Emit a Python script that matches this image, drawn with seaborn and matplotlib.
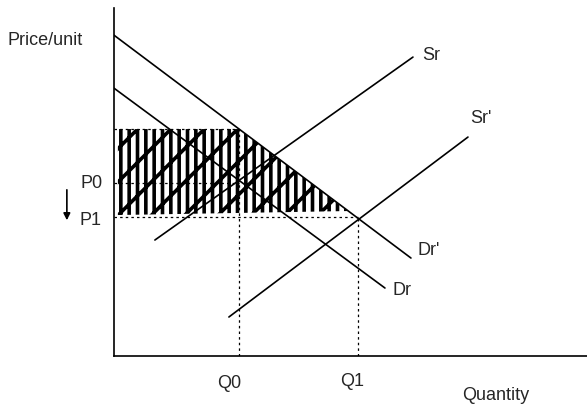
import numpy as np
import pandas as pd
import matplotlib
matplotlib.use('Agg')
import matplotlib.pyplot as plt
import seaborn as sns

# curve end points (quantity, price)
dr_prime_q = [0.0, 29.7]
dr_prime_p = [32.1, 9.8]
dr_q = [0.0, 27.1]
dr_p = [26.8, 6.8]
sr_q = [4.1, 29.9]
sr_p = [11.6, 29.9]
sr_prime_q = [11.5, 35.4]
sr_prime_p = [3.9, 21.9]

curve_names = ['Dr\'', 'Dr', 'Sr', 'Sr\'']

q0 = 12.5
q1 = 24.4
p0 = 17.3
p1 = 13.9
p_top = 22.7

x_max = 47.3
y_max = 34.8

sns.set_theme(style='white')
plt.rcParams['font.family'] = ['Liberation Sans', 'DejaVu Sans']
plt.rcParams['hatch.linewidth'] = 2.6

fig = plt.figure(figsize=(5.87, 4.05), dpi=100)
ax = fig.add_axes([0.194, 0.121, 0.806, 0.859])

curves = pd.DataFrame({
    'q': dr_prime_q + dr_q + sr_q + sr_prime_q,
    'p': dr_prime_p + dr_p + sr_p + sr_prime_p,
    'curve': [n for n in curve_names for _ in range(2)],
})
sns.lineplot(data=curves, x='q', y='p', units='curve', estimator=None,
             color='black', linewidth=1.2, ax=ax, sort=False)

# shaded area under Dr' between P1 and the top price
ax.fill([0.4, q0, q1 - 1.0, 0.4], [p_top, p_top, p1 + 0.6, p1 + 0.2], facecolor='none',
        edgecolor='black', hatch='/||', linewidth=0)

dash = (0, (2, 2.5))
ax.plot([0, q0], [p_top, p_top], color='black', linewidth=0.9, linestyle=dash)
ax.plot([0, q0], [p0, p0], color='black', linewidth=0.9, linestyle=dash)
ax.plot([0, q1], [p1, p1], color='black', linewidth=0.9, linestyle=dash)
ax.plot([q0, q0], [0, p_top], color='black', linewidth=0.9, linestyle=dash)
ax.plot([q1, q1], [0, p1], color='black', linewidth=0.9, linestyle=dash)

ax.set_xlim(0, x_max)
ax.set_ylim(0, y_max)
ax.set_xticks([])
ax.set_yticks([])
ax.set_xlabel('')
ax.set_ylabel('')
for s in ['top', 'right']:
    ax.spines[s].set_visible(False)
for s in ['left', 'bottom']:
    ax.spines[s].set_color('black')
    ax.spines[s].set_linewidth(1.2)

fs = 13
ax.text(-10.6, 31.6, 'Price/unit', fontsize=fs, ha='left', va='center', clip_on=False)
ax.text(-1.1, p0, 'P0', fontsize=fs, ha='right', va='center', clip_on=False)
ax.text(-1.2, p1 - 0.3, 'P1', fontsize=fs, ha='right', va='center', clip_on=False)
ax.annotate('', xy=(-4.7, 13.3), xytext=(-4.7, 16.9), annotation_clip=False,
            arrowprops=dict(arrowstyle='-|>', color='black', lw=1.2,
                            mutation_scale=10))
ax.text(q0 - 1.0, -2.8, 'Q0', fontsize=fs, ha='center', va='center', clip_on=False)
ax.text(q1 - 0.6, -2.6, 'Q1', fontsize=fs, ha='center', va='center', clip_on=False)
ax.text(38.2, -4.0, 'Quantity', fontsize=fs, ha='center', va='center', clip_on=False)
ax.text(30.8, 30.1, 'Sr', fontsize=fs, ha='left', va='center')
ax.text(35.6, 23.8, 'Sr\'', fontsize=fs, ha='left', va='center')
ax.text(30.4, 10.6, 'Dr\'', fontsize=fs, ha='left', va='center')
ax.text(27.9, 6.6, 'Dr', fontsize=fs, ha='left', va='center')

fig.savefig('out.png', dpi=100)
